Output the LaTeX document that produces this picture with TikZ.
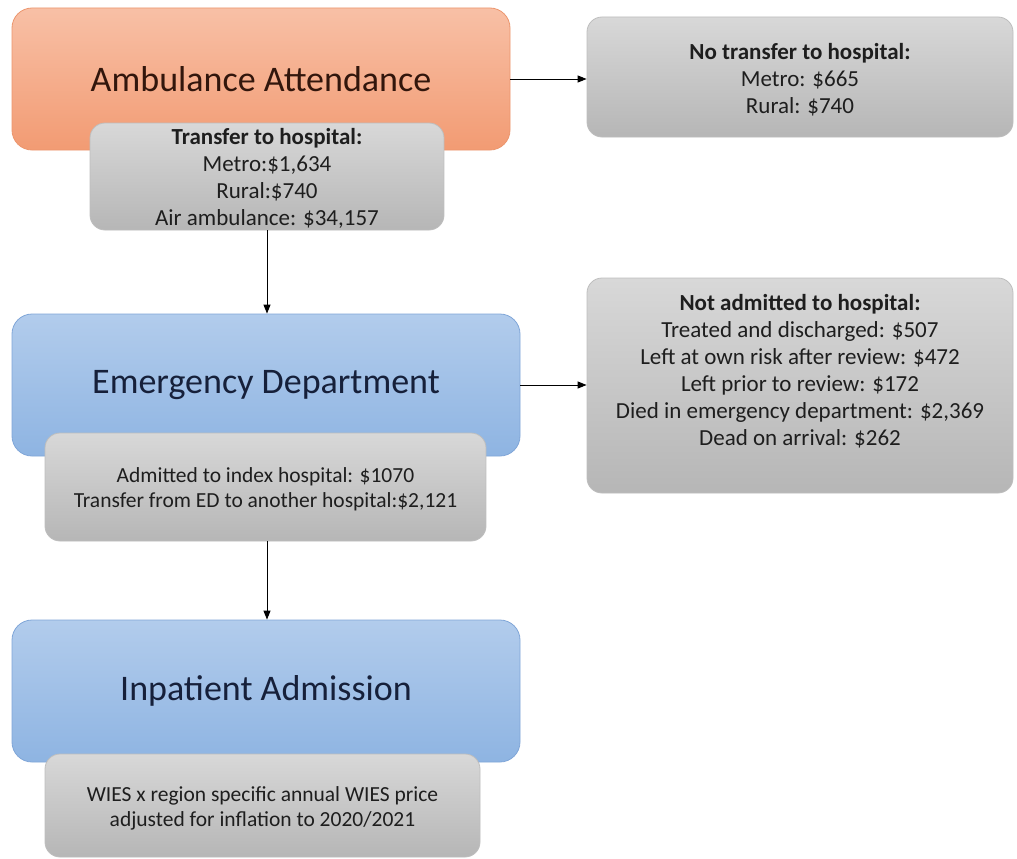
\documentclass[tikz,border=0pt]{standalone}
\usepackage{fontspec}
\setmainfont{Carlito}
\usetikzlibrary{arrows.meta}
\definecolor{orTop}{RGB}{248,192,166}
\definecolor{orBot}{RGB}{242,155,115}
\definecolor{orLine}{RGB}{236,150,110}
\definecolor{blTop}{RGB}{178,204,236}
\definecolor{blBot}{RGB}{142,180,226}
\definecolor{blLine}{RGB}{128,166,216}
\definecolor{grTop}{RGB}{216,216,216}
\definecolor{grBot}{RGB}{182,182,182}
\definecolor{grLine}{RGB}{190,190,190}
\definecolor{txOr}{RGB}{50,22,12}
\definecolor{txBl}{RGB}{22,32,58}
\definecolor{txGr}{RGB}{30,30,30}
\tikzset{
  bigbox/.style={rounded corners=20pt, line width=0.8pt, inner sep=0pt, align=center,
    font=\fontsize{36}{42}\selectfont},
  orbox/.style={bigbox, draw=orLine, top color=orTop, bottom color=orBot, text=txOr},
  blbox/.style={bigbox, draw=blLine, top color=blTop, bottom color=blBot, text=txBl},
  grbox/.style={rounded corners=15pt, line width=0.8pt, draw=grLine, top color=grTop,
    bottom color=grBot, inner sep=0pt},
  subtext/.style={align=center, text=txGr, inner sep=0pt, font=\fontsize{23}{27}\selectfont},
  smalltext/.style={align=center, text=txGr, inner sep=0pt, font=\fontsize{21.5}{25}\selectfont},
  arr/.style={-{Triangle[length=9pt,width=7pt]}, line width=1pt, black}
}
\begin{document}
\begin{tikzpicture}[x=1pt,y=-1pt]
\useasboundingbox[fill=white] (0,0) rectangle (1017,859);
% main boxes
\node[orbox, minimum width=498pt, minimum height=142pt] (amb) at (261,79) {Ambulance Attendance};
\node[blbox, minimum width=508pt, minimum height=142pt] (ed) at (266,385) {Emergency Department};
\node[blbox, minimum width=508pt, minimum height=142pt] (inp) at (266,691) {Inpatient Admission};
% sub boxes
\node[grbox, minimum width=354pt, minimum height=107pt] (trans) at (267,176.5) {};
\node[subtext] (transtxt) at (267,178)
  {\textbf{Transfer to hospital:}\\Metro:\$1,634\\Rural:\$740\\Air ambulance:  \$34,157};
\node[grbox, minimum width=426pt, minimum height=120pt] (notrans) at (800,77) {};
\node[subtext] (notranstxt) at (800,80)
  {\textbf{No transfer to hospital:}\\Metro:  \$665\\Rural: \$740};
\node[grbox, minimum width=426pt, minimum height=215pt] (notadm) at (800,385.5) {};
\node[subtext] (notadmtxt) at (800,371)
  {\textbf{Not admitted to hospital:}\\Treated and discharged: \$507\\Left at own risk after review: \$472\\Left prior  to review: \$172\\Died in emergency department:  \$2,369\\Dead on  arrival: \$262};
\node[grbox, minimum width=441pt, minimum height=108pt] (edsub) at (265.5,487) {};
\node[smalltext] (edsubtxt) at (265.5,489)
  {Admitted to index hospital: \$1070\\Transfer from ED to another hospital:\$2,121};
\node[grbox, minimum width=435pt, minimum height=103pt] (wies) at (262.5,805.5) {};
\node[smalltext] (wiestxt) at (262.5,808)
  {WIES x region specific annual WIES price\\adjusted for inflation to 2020/2021};
% connectors
\draw[arr] (amb.east) -- (amb.east -| notrans.west);
\draw[arr] (trans.south) -- (trans.south |- ed.north);
\draw[arr] (ed.east) -- (ed.east -| notadm.west);
\draw[arr] (edsub.south -| trans.south) -- (trans.south |- inp.north);
\end{tikzpicture}
\end{document}
